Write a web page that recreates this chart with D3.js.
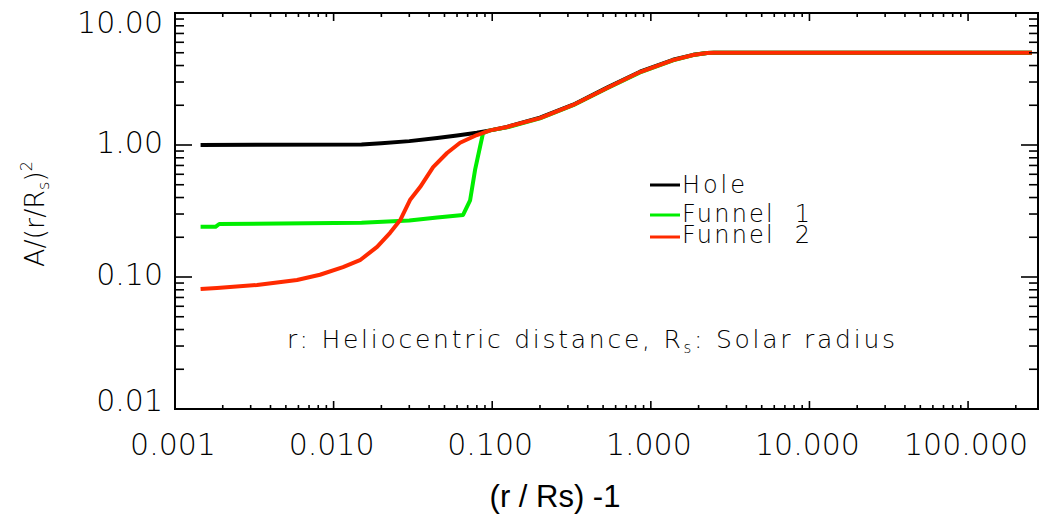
<!DOCTYPE html>
<html>
<head>
<meta charset="utf-8">
<script src="https://cdn.jsdelivr.net/npm/d3@7/dist/d3.min.js"></script>
<style>
  body { margin: 0; background: #fff; }
  svg { display: block; }
  .hf { font-family: "DejaVu Sans", sans-serif; font-weight: 200; fill: #000; }
</style>
</head>
<body>
<div id="chart"></div>
<script>
// ---- data ----
const xTickValues = [0.001, 0.01, 0.1, 1, 10, 100];
const xTickLabels = ["0.001", "0.010", "0.100", "1.000", "10.000", "100.000"];
const yTickValues = [0.01, 0.1, 1, 10];
const yTickLabels = ["0.01", "0.10", "1.00", "10.00"];

const holeX = [0.00145, 0.015, 0.02, 0.03, 0.045, 0.06, 0.08, 0.097, 0.124, 0.2, 0.324, 0.53, 0.855, 1.38, 1.85, 2.26, 2.5, 253];
const holeY = [1.00, 1.01, 1.03, 1.07, 1.13, 1.18, 1.24, 1.29, 1.37, 1.61, 2.02, 2.72, 3.59, 4.42, 4.82, 4.98, 5.0, 5.0];

const funnel1X = [0.00145, 0.0018, 0.0019, 0.015, 0.03, 0.045, 0.0655, 0.0725, 0.078, 0.0838, 0.0875, 0.097, 0.124, 0.2, 0.324, 0.53, 0.855, 1.38, 1.85, 2.26, 2.5, 253];
const funnel1Y = [0.24, 0.24, 0.252, 0.258, 0.268, 0.282, 0.295, 0.38, 0.65, 0.97, 1.23, 1.29, 1.36, 1.59, 2.0, 2.69, 3.55, 4.38, 4.8, 4.97, 5.0, 5.0];

const funnel2X = [0.00145, 0.00184, 0.00329, 0.00588, 0.0082, 0.01146, 0.01466, 0.0188, 0.0227, 0.0263, 0.0303, 0.0351, 0.0424, 0.0519, 0.0627, 0.08, 0.097, 0.124, 0.2, 0.324, 0.53, 0.855, 1.38, 1.85, 2.26, 2.5, 253];
const funnel2Y = [0.081, 0.0826, 0.087, 0.095, 0.104, 0.119, 0.134, 0.169, 0.216, 0.27, 0.383, 0.48, 0.68, 0.87, 1.04, 1.19, 1.29, 1.37, 1.60, 2.01, 2.70, 3.57, 4.40, 4.81, 4.98, 5.0, 5.0];

const seriesNames = ["Hole", "Funnel  1", "Funnel  2"];
const seriesColors = ["#000000", "#00ee00", "#ff2a00"];

// ---- setup ----
const width = 1039, height = 517;
const plotLeft = 175, plotRight = 1038, plotTop = 13, plotBottom = 409;

const svg = d3.select("#chart").append("svg")
    .attr("width", width)
    .attr("height", height);

const x = d3.scaleLog().domain([0.001, 276]).range([plotLeft, plotRight]);
const y = d3.scaleLog().domain([0.01, 10]).range([plotBottom, plotTop]);

// minor ticks 2..9 in each decade
function minorTicks(scale) {
    const [lo, hi] = scale.domain();
    const out = [];
    for (let p = Math.floor(Math.log10(lo)); p <= Math.ceil(Math.log10(hi)); p++) {
        for (let k = 2; k <= 9; k++) {
            const v = k * Math.pow(10, p);
            if (v > lo && v < hi) out.push(v);
        }
    }
    return out;
}

// ---- data lines ----
const line = d3.line().x(d => x(d[0])).y(d => y(d[1]));
const allSeries = [
    d3.zip(holeX, holeY),
    d3.zip(funnel1X, funnel1Y),
    d3.zip(funnel2X, funnel2Y)
];

svg.append("g").selectAll("path")
    .data(allSeries)
    .join("path")
    .attr("d", line)
    .attr("fill", "none")
    .attr("stroke", (d, i) => seriesColors[i])
    .attr("stroke-width", 4)
    .attr("stroke-linejoin", "round");

// ---- frame & ticks ----
const axes = svg.append("g").attr("stroke", "#000");

axes.append("rect")
    .attr("x", plotLeft).attr("y", plotTop)
    .attr("width", plotRight - plotLeft).attr("height", plotBottom - plotTop)
    .attr("fill", "none")
    .attr("stroke-width", 2);

// x ticks (bottom and top), major 8px, minor 4px
const xTicks = xTickValues.map(v => ({v, len: 8})).concat(minorTicks(x).map(v => ({v, len: 4})));
axes.selectAll("line.xb").data(xTicks).join("line")
    .attr("class", "xb")
    .attr("x1", d => x(d.v)).attr("x2", d => x(d.v))
    .attr("y1", plotBottom).attr("y2", d => plotBottom - d.len)
    .attr("stroke-width", 1.6);
axes.selectAll("line.xt").data(xTicks).join("line")
    .attr("class", "xt")
    .attr("x1", d => x(d.v)).attr("x2", d => x(d.v))
    .attr("y1", plotTop).attr("y2", d => plotTop + d.len)
    .attr("stroke-width", 1.6);

// y ticks (left and right), major 17px, minor 9px
const yTicks = yTickValues.map(v => ({v, len: 17})).concat(minorTicks(y).map(v => ({v, len: 9})));
axes.selectAll("line.yl").data(yTicks).join("line")
    .attr("class", "yl")
    .attr("x1", plotLeft).attr("x2", d => plotLeft + d.len)
    .attr("y1", d => y(d.v)).attr("y2", d => y(d.v))
    .attr("stroke-width", 1.6);
axes.selectAll("line.yr").data(yTicks).join("line")
    .attr("class", "yr")
    .attr("x1", plotRight).attr("x2", d => plotRight - d.len)
    .attr("y1", d => y(d.v)).attr("y2", d => y(d.v))
    .attr("stroke-width", 1.6);

// ---- tick labels ----
svg.append("g").selectAll("text")
    .data(xTickValues)
    .join("text")
    .attr("class", "hf")
    .attr("x", d => x(d) - 2)
    .attr("y", 455)
    .attr("text-anchor", "middle")
    .attr("font-size", 30)
    .text((d, i) => xTickLabels[i]);

svg.append("g").selectAll("text")
    .data(yTickValues)
    .join("text")
    .attr("class", "hf")
    .attr("x", 163)
    .attr("y", d => Math.max(22, Math.min(400, y(d) - 3)) + 11)
    .attr("text-anchor", "end")
    .attr("font-size", 30)
    .text((d, i) => yTickLabels[i]);

// ---- axis titles ----
svg.append("text")
    .attr("x", 555).attr("y", 507)
    .attr("text-anchor", "middle")
    .attr("font-family", "'Liberation Sans', Arial, sans-serif")
    .attr("font-size", 31)
    .text("(r / Rs) -1");

const yTitle = svg.append("text")
    .attr("class", "hf")
    .attr("transform", "translate(44,214) rotate(-90)")
    .attr("text-anchor", "middle")
    .attr("font-size", 27);
yTitle.append("tspan").text("A/(r/R");
yTitle.append("tspan").attr("font-size", 16).attr("dy", 5).text("s");
yTitle.append("tspan").attr("dy", -5).text(")");
yTitle.append("tspan").attr("font-size", 16).attr("dy", -12).text("2");

// ---- legend ----
const legendRows = [185, 215, 237];
const legendTextY = [193, 222, 243];
const legendWidths = [63, 128, 128];
const legend = svg.append("g");
legend.selectAll("line").data(seriesNames).join("line")
    .attr("x1", 650).attr("x2", 680)
    .attr("y1", (d, i) => legendRows[i]).attr("y2", (d, i) => legendRows[i])
    .attr("stroke", (d, i) => seriesColors[i])
    .attr("stroke-width", 3);
legend.selectAll("text").data(seriesNames).join("text")
    .attr("class", "hf")
    .attr("x", 682)
    .attr("y", (d, i) => legendTextY[i])
    .attr("font-size", 24)
    .attr("textLength", (d, i) => legendWidths[i])
    .attr("lengthAdjust", "spacing")
    .style("white-space", "pre")
    .text(d => d);

// ---- annotation ----
const note = svg.append("text")
    .attr("class", "hf")
    .attr("x", 287).attr("y", 348)
    .attr("font-size", 25)
    .attr("textLength", 608)
    .attr("lengthAdjust", "spacing");
note.append("tspan").text("r: Heliocentric distance, R");
note.append("tspan").attr("font-size", 15).attr("dy", 5).text("s");
note.append("tspan").attr("dy", -5).text(": Solar radius");
</script>
</body>
</html>
